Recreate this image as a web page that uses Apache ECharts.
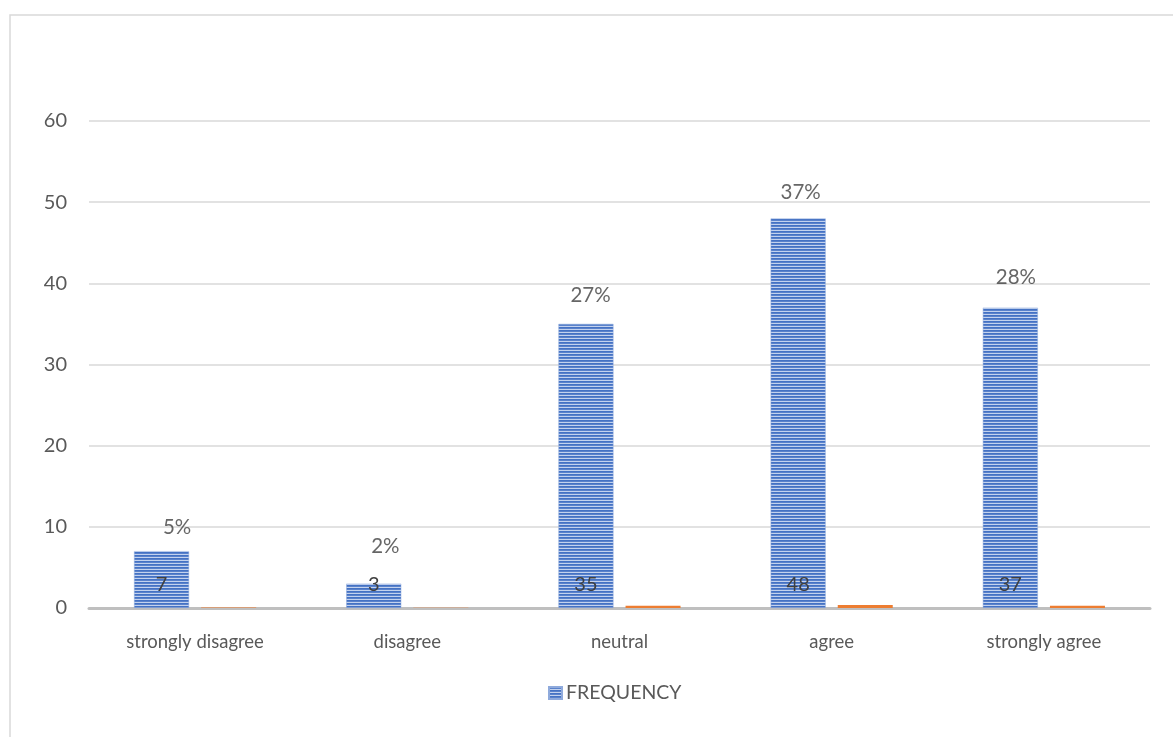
<!DOCTYPE html>
<html>
<head>
<meta charset="utf-8">
<script src="https://cdn.jsdelivr.net/npm/echarts@6/dist/echarts.min.js"></script>
<style>
  html, body { margin: 0; padding: 0; background: #fff; }
  #chart { width: 1173px; height: 737px; }
</style>
</head>
<body>
<div id="chart"></div>
<script>
// Survey responses: frequency and share of respondents
const categories = ['strongly disagree', 'disagree', 'neutral', 'agree', 'strongly agree'];
const frequency = [7, 3, 35, 48, 37];
const percent = [5, 2, 27, 37, 28];
const yTicks = [0, 10, 20, 30, 40, 50, 60];

// Where each percentage label sits relative to the top of its frequency bar
const pctLabelOffsets = [[-18, -24], [-22, -37], [-29, -29], [-31, -26], [-28, -30]];

const FONT = 'Lato, "Open Sans", sans-serif';
const TEXT = '#595959';

// Horizontal-stripe fill for the frequency bars
function stripePattern() {
  const c = document.createElement('canvas');
  c.width = 4; c.height = 3;
  const g = c.getContext('2d');
  g.fillStyle = '#4472c4'; g.fillRect(0, 0, 4, 1);
  g.fillStyle = '#5a82cb'; g.fillRect(0, 1, 4, 1);
  g.fillStyle = '#c3d2ee'; g.fillRect(0, 2, 4, 1);
  return c;
}
const stripes = { image: stripePattern(), repeat: 'repeat' };

const chart = echarts.init(document.getElementById('chart'));
chart.setOption({
  animation: false,
  backgroundColor: '#fff',
  graphic: [{
    type: 'rect',
    shape: { x: 10, y: 15, width: 1300, height: 900 },
    style: { fill: 'none', stroke: '#d9d9d9', lineWidth: 1.5 },
    silent: true,
    z: -10
  }],
  grid: { left: 89, right: 23, top: 121, bottom: 129 },
  legend: {
    data: [{ name: 'FREQUENCY', icon: 'rect' }],
    bottom: 29,
    left: 543,
    itemWidth: 13, itemHeight: 12, itemGap: 6,
    textStyle: { color: TEXT, fontSize: 19.5, fontFamily: FONT, padding: [0, 0, 0, -1] }
  },
  xAxis: {
    type: 'category',
    data: categories,
    axisTick: { show: false },
    axisLine: { lineStyle: { color: '#bfbfbf', width: 3 } },
    axisLabel: { color: TEXT, fontSize: 18.5, fontFamily: FONT, margin: 25 }
  },
  yAxis: {
    type: 'value',
    min: yTicks[0],
    max: yTicks[yTicks.length - 1],
    interval: yTicks[1] - yTicks[0],
    axisLine: { show: false },
    axisTick: { show: false },
    splitLine: { lineStyle: { color: '#d9d9d9', width: 1.5 } },
    axisLabel: { color: TEXT, fontSize: 20, fontFamily: FONT, margin: 22 }
  },
  series: [
    {
      name: 'FREQUENCY',
      type: 'bar',
      data: frequency,
      barWidth: 55,
      barGap: '22%',
      itemStyle: { color: stripes, borderColor: '#8faadc', borderWidth: 0.5 },
      label: {
        show: true,
        position: 'insideBottom',
        distance: 13,
        color: '#404040',
        fontSize: 20,
        fontFamily: FONT
      },
      z: 2
    },
    {
      name: 'PERCENT',
      type: 'bar',
      data: percent.map(p => p / 100),
      barWidth: 55,
      itemStyle: { color: '#ed7d31' },
      z: 1
    },
    {
      name: 'PERCENT LABEL',
      type: 'scatter',
      symbolSize: 0,
      silent: true,
      data: frequency.map((v, i) => ({
        value: v,
        label: {
          show: true,
          position: 'inside',
          offset: pctLabelOffsets[i],
          formatter: percent[i] + '%'
        }
      })),
      label: { color: '#404040', fontSize: 20.5, fontFamily: FONT },
      z: 5
    }
  ]
});
</script>
</body>
</html>
